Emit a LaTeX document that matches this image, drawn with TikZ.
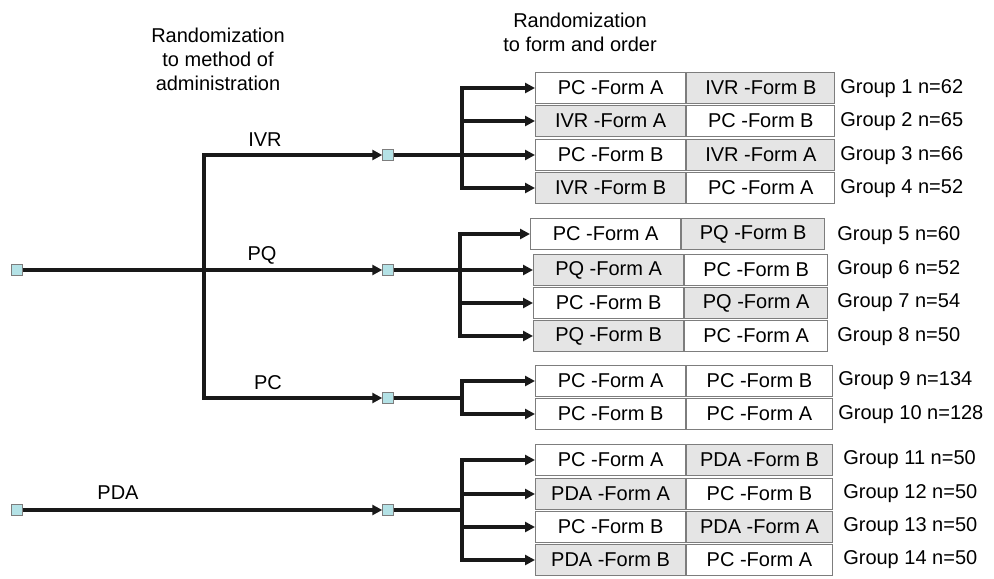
\documentclass[tikz,border=0pt]{standalone}
\usepackage{fontspec}
\setmainfont{Liberation Sans}
\usetikzlibrary{arrows.meta}

\definecolor{boxgray}{RGB}{229,229,229}
\definecolor{hubcyan}{RGB}{180,226,230}
\definecolor{edgegray}{RGB}{125,125,125}

\tikzset{
  cell/.style={draw=edgegray, line width=0.9pt, minimum width=112.5pt, minimum height=23pt, inner sep=0pt, anchor=west},
  shadecell/.style={cell, fill=boxgray},
  hub/.style={draw=edgegray, fill=hubcyan, line width=0.6pt, minimum size=8pt, inner sep=0pt},
  link/.style={line width=2.3pt, black!90},
  arr/.style={link, -{Triangle[length=7.5pt,width=7.5pt]}},
  grp/.style={anchor=west, inner sep=0pt},
}

\begin{document}
\begin{tikzpicture}[x=0.75pt, y=-0.75pt, font=\fontsize{15}{18}\selectfont]
        \useasboundingbox (0,0) rectangle (994,578);

        % Headings
        \node[align=center] (head1) at (218,59) {Randomization\\to method of\\administration};
        \node[align=center] (head2) at (580,32) {Randomization\\to form and order};

        % Start points and method hubs
        \node[hub] (start) at (17,270) {};
        \node[hub] (pdastart) at (17,510) {};
        \coordinate (split) at (204,270);
        \node[hub] (ivr) at (388,155) {};
        \node[hub] (pq) at (388,270) {};
        \node[hub] (pc) at (388,398) {};
        \node[hub] (pda) at (388,510) {};

        % Method labels
        \node (ivrlab) at (265,140) {IVR};
        \node (pqlab) at (262,255) {PQ};
        \node (pclab) at (268,383) {PC};
        \node (pdalab) at (118,493) {PDA};

        % Randomization to method
        \draw[link] (start) -- (split);
        \draw[arr] (split) |- (ivr);
        \draw[arr] (split) -- (pq);
        \draw[arr] (split) |- (pc);
        \draw[arr] (pdastart) -- (pda);

        % IVR rows
        \node[cell] (r1a) at (535,88) {PC -Form A};
        \node[shadecell, minimum width=111pt] (r1b) at (r1a.east) {IVR -Form B};
        \node[shadecell] (r2a) at (535,121) {IVR -Form A};
        \node[cell, minimum width=111pt] (r2b) at (r2a.east) {PC -Form B};
        \node[cell] (r3a) at (535,155) {PC -Form B};
        \node[shadecell, minimum width=111pt] (r3b) at (r3a.east) {IVR -Form A};
        \node[shadecell] (r4a) at (535,188) {IVR -Form B};
        \node[cell, minimum width=111pt] (r4b) at (r4a.east) {PC -Form A};

        % PQ rows
        \node[cell] (r5a) at (530,234) {PC -Form A};
        \node[shadecell, minimum width=107pt] (r5b) at (r5a.east) {PQ -Form B};
        \node[shadecell] (r6a) at (533,270) {PQ -Form A};
        \node[cell, minimum width=107pt] (r6b) at (r6a.east) {PC -Form B};
        \node[cell] (r7a) at (533,303) {PC -Form B};
        \node[shadecell, minimum width=107pt] (r7b) at (r7a.east) {PQ -Form A};
        \node[shadecell] (r8a) at (533,336) {PQ -Form B};
        \node[cell, minimum width=107pt] (r8b) at (r8a.east) {PC -Form A};

        % PC rows
        \node[cell] (r9a) at (535,381) {PC -Form A};
        \node[cell, minimum width=109pt] (r9b) at (r9a.east) {PC -Form B};
        \node[cell] (r10a) at (535,414) {PC -Form B};
        \node[cell, minimum width=109pt] (r10b) at (r10a.east) {PC -Form A};

        % PDA rows
        \node[cell] (r11a) at (535,460) {PC -Form A};
        \node[shadecell, minimum width=109pt] (r11b) at (r11a.east) {PDA -Form B};
        \node[shadecell] (r12a) at (535,494) {PDA -Form A};
        \node[cell, minimum width=109pt] (r12b) at (r12a.east) {PC -Form B};
        \node[cell] (r13a) at (535,527) {PC -Form B};
        \node[shadecell, minimum width=109pt] (r13b) at (r13a.east) {PDA -Form A};
        \node[shadecell] (r14a) at (535,560) {PDA -Form B};
        \node[cell, minimum width=109pt] (r14b) at (r14a.east) {PC -Form A};

        % Group sizes
        \node[grp] (g1) at (840,89) {Group 1 n=62};
        \node[grp] (g2) at (840,122) {Group 2 n=65};
        \node[grp] (g3) at (840,156) {Group 3 n=66};
        \node[grp] (g4) at (840,189) {Group 4 n=52};
        \node[grp] (g5) at (837,236) {Group 5 n=60};
        \node[grp] (g6) at (837,270) {Group 6 n=52};
        \node[grp] (g7) at (837,303) {Group 7 n=54};
        \node[grp] (g8) at (837,337) {Group 8 n=50};
        \node[grp] (g9) at (838,381) {Group 9 n=134};
        \node[grp] (g10) at (838,415) {Group 10 n=128};
        \node[grp] (g11) at (843,460) {Group 11 n=50};
        \node[grp] (g12) at (843,494) {Group 12 n=50};
        \node[grp] (g13) at (843,527) {Group 13 n=50};
        \node[grp] (g14) at (843,560) {Group 14 n=50};

        % Randomization to form and order
        \coordinate (ivrsplit) at (462,155);
        \draw[link] (ivr) -- (ivrsplit);
        \draw[arr] (ivrsplit) |- (r1a);
        \draw[arr] (ivrsplit) |- (r2a);
        \draw[arr] (ivrsplit) -- (r3a);
        \draw[arr] (ivrsplit) |- (r4a);

        \coordinate (pqsplit) at (460,270);
        \draw[link] (pq) -- (pqsplit);
        \draw[arr] (pqsplit) |- (r5a);
        \draw[arr] (pqsplit) -- (r6a);
        \draw[arr] (pqsplit) |- (r7a);
        \draw[arr] (pqsplit) |- (r8a);

        \coordinate (pcsplit) at (462,398);
        \draw[link] (pc) -- (pcsplit);
        \draw[arr] (pcsplit) |- (r9a);
        \draw[arr] (pcsplit) |- (r10a);

        \coordinate (pdasplit) at (462,510);
        \draw[link] (pda) -- (pdasplit);
        \draw[arr] (pdasplit) |- (r11a);
        \draw[arr] (pdasplit) |- (r12a);
        \draw[arr] (pdasplit) |- (r13a);
        \draw[arr] (pdasplit) |- (r14a);

    \end{tikzpicture}
\end{document}
